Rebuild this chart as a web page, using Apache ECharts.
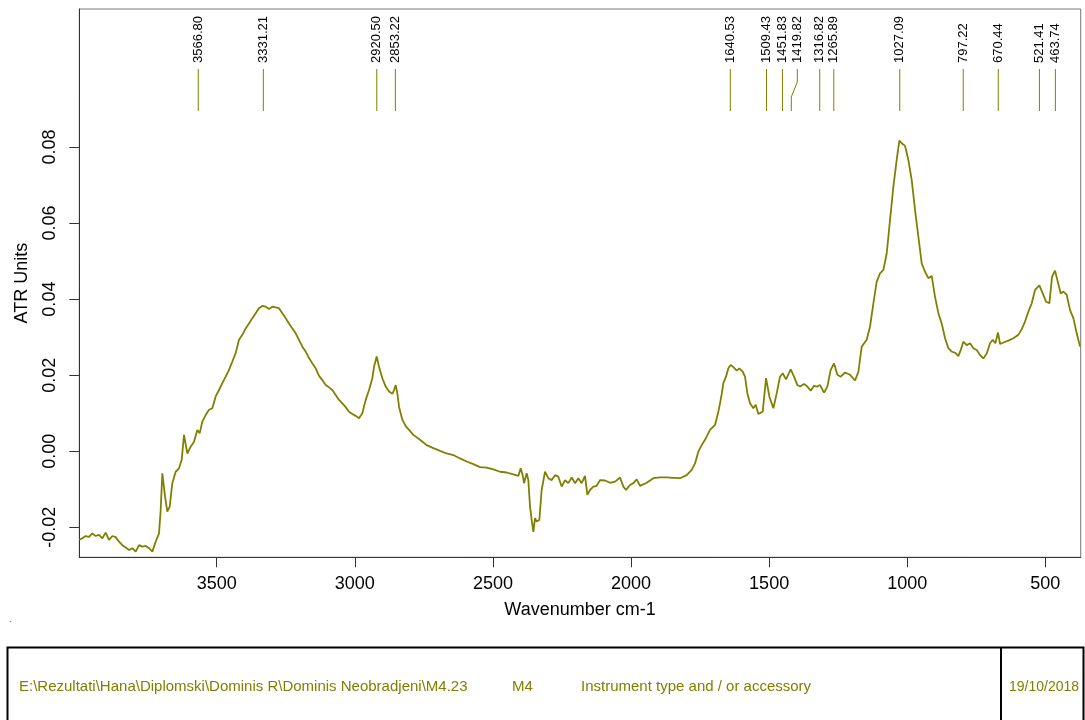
<!DOCTYPE html>
<html>
<head>
<meta charset="utf-8">
<script src="https://cdn.jsdelivr.net/npm/echarts@6/dist/echarts.min.js"></script>
<style>
html,body{margin:0;padding:0;background:#fff;}
#c{width:1085px;height:720px;}
</style>
</head>
<body>
<div id="c"></div>
<script>
// Wavenumbers (cm-1), descending
const wavenumbers = [
3997.5,3986.5,3974.5,3962.4,3950.3,3938.3,3926.2,3914.1,3902.0,3890.0,3877.9,3865.8,3853.8,3841.7,3829.6,3817.6,3805.5,3793.4,3781.4,3769.3,3757.2,3745.1,3733.1,3727.0,3721.0,3708.9,3702.9,3696.9,3687.2,3678.8,3670.3,3660.7,3648.6,3636.5,3626.9,3618.4,3606.4,3594.3,3582.2,3570.2,3561.7,3552.0,3540.0,3527.9,3515.8,3503.8,3491.7,3479.6,3467.6,3455.5,3443.4,3431.4,3419.3,3407.2,3395.2,3383.1,3371.0,3359.0,3346.9,3334.8,3322.7,3310.7,3298.6,3286.5,3274.5,3262.4,3250.3,3238.3,3226.2,3214.1,3202.1,3190.0,3177.9,3165.8,3153.8,3141.7,3129.6,3117.6,3105.5,3093.4,3081.4,3069.3,3057.2,3045.1,3033.1,3021.0,3008.9,2996.9,2984.8,2972.7,2960.7,2948.6,2936.5,2930.5,2920.8,2912.4,2900.3,2888.3,2876.2,2864.1,2858.1,2852.0,2846.0,2840.0,2827.9,2815.8,2803.8,
2788.1,2764.0,2739.9,2715.7,2691.6,2667.4,2643.3,2619.2,2595.0,2570.9,2546.7,2522.6,2498.5,2474.3,2450.2,2426.1,2408.0,2399.5,2392.3,2387.4,2377.8,2371.8,2365.7,2359.7,2353.6,2347.6,2341.6,2332.0,2323.6,2311.4,2299.4,2287.3,2275.2,2263.2,2251.1,2239.0,2227.0,2214.9,2202.8,2190.7,2178.7,2166.6,2158.1,2148.5,2136.4,2124.3,2112.3,2094.2,2076.1,2057.9,2039.8,2027.8,2018.1,2003.6,1991.6,1979.5,1967.4,1943.3,1919.1,1895.0,1870.9,1846.7,1822.6,1798.5,1780.3,1768.3,1756.2,1744.2,1732.1,1714.0,1695.9,1683.9,1677.8,1671.8,1665.7,1656.1,1647.6,1639.2,
1629.5,1617.5,1607.8,1595.7,1587.3,1578.8,1569.2,1557.1,1548.7,1539.0,1523.3,1511.2,1499.2,1484.7,1472.6,1460.6,1450.9,1438.8,1421.9,1409.9,1397.8,1388.2,1373.7,1361.6,1349.5,1337.5,1325.4,1315.7,1301.2,1289.2,1277.1,1265.0,1253.0,1240.9,1225.2,1207.1,1189.0,1176.9,1164.9,1146.8,1134.7,1122.6,1110.5,1098.5,1086.4,1074.4,1062.3,1050.2,1038.2,1028.5,1020.0,1007.9,995.9,983.8,971.7,959.7,947.6,935.6,923.5,911.4,899.4,887.3,875.2,863.1,851.1,839.0,826.9,814.9,806.4,796.8,784.7,772.6,760.6,748.5,736.4,724.4,712.3,700.2,690.5,681.0,671.3,664.0,652.0,633.8,615.7,597.6,585.6,573.5,561.4,549.4,537.3,521.6,509.5,497.4,485.4,475.7,464.9,456.4,444.4,434.7,422.6,410.5,398.5,386.4,374.4
];
// Absorbance (ATR units)
const atrUnits = [
-0.0233,-0.0229,-0.0223,-0.0225,-0.0216,-0.0223,-0.0220,-0.0229,-0.0214,-0.0233,-0.0223,-0.0226,-0.0238,-0.0247,-0.0253,-0.0260,-0.0255,-0.0264,-0.0247,-0.0251,-0.0249,-0.0255,-0.0264,-0.0268,-0.0238,-0.0216,-0.0155,-0.0058,-0.0119,-0.0159,-0.0146,-0.0084,-0.0054,-0.0045,-0.0023,0.0043,-0.0006,0.0012,0.0025,0.0056,0.0047,0.0078,0.0095,0.0109,0.0113,0.0144,0.0161,0.0179,0.0196,0.0214,0.0236,0.0258,0.0293,0.0306,0.0323,0.0336,0.0350,0.0363,0.0376,0.0382,0.0380,0.0374,0.0380,0.0378,0.0376,0.0363,0.0350,0.0336,0.0323,0.0310,0.0293,0.0275,0.0262,0.0245,0.0231,0.0218,0.0198,0.0187,0.0174,0.0168,0.0161,0.0148,0.0135,0.0126,0.0116,0.0104,0.0098,0.0093,0.0087,0.0100,0.0135,0.0161,0.0192,0.0222,0.0249,0.0222,0.0192,0.0170,0.0157,0.0151,0.0161,0.0174,0.0152,0.0117,0.0083,0.0066,0.0056,
0.0043,0.0030,0.0016,0.0008,0.0001,-0.0006,-0.0010,-0.0019,-0.0027,-0.0034,-0.0042,-0.0043,-0.0048,-0.0054,-0.0056,-0.0061,-0.0065,-0.0045,-0.0063,-0.0084,-0.0058,-0.0076,-0.0146,-0.0181,-0.0212,-0.0176,-0.0185,-0.0181,-0.0102,-0.0054,-0.0071,-0.0076,-0.0063,-0.0067,-0.0093,-0.0076,-0.0084,-0.0069,-0.0084,-0.0071,-0.0084,-0.0065,-0.0115,-0.0102,-0.0093,-0.0091,-0.0076,-0.0077,-0.0083,-0.0080,-0.0069,-0.0093,-0.0102,-0.0089,-0.0084,-0.0074,-0.0091,-0.0083,-0.0071,-0.0069,-0.0069,-0.0070,-0.0071,-0.0063,-0.0049,-0.0032,-0.0001,0.0016,0.0030,0.0056,0.0069,0.0104,0.0126,0.0150,0.0179,0.0196,0.0218,0.0227,
0.0221,0.0212,0.0218,0.0209,0.0196,0.0152,0.0126,0.0113,0.0122,0.0098,0.0104,0.0192,0.0144,0.0113,0.0152,0.0196,0.0205,0.0189,0.0215,0.0196,0.0174,0.0170,0.0177,0.0170,0.0159,0.0172,0.0170,0.0174,0.0154,0.0170,0.0214,0.0231,0.0201,0.0196,0.0207,0.0201,0.0186,0.0209,0.0275,0.0293,0.0328,0.0389,0.0446,0.0468,0.0477,0.0520,0.0608,0.0696,0.0766,0.0817,0.0810,0.0803,0.0766,0.0713,0.0634,0.0564,0.0494,0.0472,0.0455,0.0461,0.0406,0.0363,0.0336,0.0297,0.0271,0.0262,0.0259,0.0250,0.0266,0.0288,0.0279,0.0284,0.0271,0.0266,0.0253,0.0244,0.0257,0.0284,0.0293,0.0284,0.0312,0.0282,0.0286,0.0291,0.0297,0.0306,0.0321,0.0341,0.0367,0.0389,0.0424,0.0436,0.0415,0.0393,0.0389,0.0459,0.0475,0.0450,0.0415,0.0420,0.0411,0.0371,0.0350,0.0310,0.0275
];
// Peak picks
const peakWavenumbers = [3566.80,3331.21,2920.50,2853.22,1640.53,1509.43,1451.83,1419.82,1316.82,1265.89,1027.09,797.22,670.44,521.41,463.74];
const peakLabelShiftPx = [0,0,0,0,0,0,0,6,0,0,0,0,0,0,0];
// Axis ticks
const xTicks = [3500,3000,2500,2000,1500,1000,500];
const yTicks = [-0.02,0.00,0.02,0.04,0.06,0.08];

const OLIVE = '#808000';
const spectrum = wavenumbers.map((w,i)=>[w, atrUnits[i]]);
const peaks = peakWavenumbers.map((w,i)=>[w, 0, peakLabelShiftPx[i]]);

const chart = echarts.init(document.getElementById('c'), null, {renderer:'canvas'});
chart.setOption({
  animation:false,
  backgroundColor:'#fff',
  grid:{left:79.3, right:4.3, top:9, bottom:162.7, show:true, borderColor:'#777', borderWidth:1},
  xAxis:{
    type:'value', inverse:true, min:372, max:3997.5,
    name:'Wavenumber cm-1', nameLocation:'middle', nameGap:44,
    nameTextStyle:{color:'#000', fontSize:18, fontFamily:'Liberation Sans, Arial'},
    axisLine:{onZero:false, lineStyle:{color:'#333', width:1}},
    axisTick:{show:true, length:10, customValues:xTicks, lineStyle:{color:'#333'}},
    axisLabel:{customValues:xTicks, color:'#000', fontSize:18, margin:18, fontFamily:'Liberation Sans, Arial',
      formatter:v=>String(v)},
    splitLine:{show:false}
  },
  yAxis:{
    type:'value', min:-0.0279, max:0.1163,
    name:'ATR Units', nameLocation:'middle', nameGap:48, nameRotate:90,
    nameTextStyle:{color:'#000', fontSize:18, fontFamily:'Liberation Sans, Arial'},
    axisLine:{show:true, onZero:false, lineStyle:{color:'#333', width:1}},
    axisTick:{show:true, length:10, customValues:yTicks, lineStyle:{color:'#333'}},
    axisLabel:{customValues:yTicks, rotate:90, color:'#000', fontSize:18, margin:20, fontFamily:'Liberation Sans, Arial',
      formatter:v=>v.toFixed(2)},
    splitLine:{show:false}
  },
  series:[
    {type:'line', data:spectrum, showSymbol:false, symbol:'none',
     lineStyle:{color:OLIVE, width:1.8}, clip:true, z:3},
    {type:'custom', data:peaks, encode:{x:0,y:1}, clip:false, z:4,
     renderItem:function(params, api){
       const x = api.coord([api.value(0), 0])[0];
       const off = api.value(2);
       const xl = x + off;
       const pts = off ? [[xl,69],[xl,82],[x,97],[x,111]] : [[x,69],[x,111]];
       return {type:'group', children:[
         {type:'polyline', shape:{points:pts}, style:{stroke:OLIVE, lineWidth:1, fill:null}},
         {type:'text', x:xl, y:63, rotation:Math.PI/2,
          style:{text:peakWavenumbers[params.dataIndex].toFixed(2), fill:'#000', font:'13px "Liberation Sans", Arial', align:'left', verticalAlign:'middle'}}
       ]};
     }}
  ],
  graphic:[
    {type:'rect', shape:{x:7.5, y:647.5, width:1076, height:90}, style:{fill:null, stroke:'#000', lineWidth:2}},
    {type:'line', shape:{x1:1001, y1:647.5, x2:1001, y2:730}, style:{stroke:'#000', lineWidth:2}},
    {type:'text', x:19, y:687, style:{text:'E:\\Rezultati\\Hana\\Diplomski\\Dominis R\\Dominis Neobradjeni\\M4.23', fill:OLIVE, font:'15px "Liberation Sans", Arial', verticalAlign:'middle'}},
    {type:'text', x:512, y:687, style:{text:'M4', fill:OLIVE, font:'15px "Liberation Sans", Arial', verticalAlign:'middle'}},
    {type:'text', x:581, y:687, style:{text:'Instrument type and / or accessory', fill:OLIVE, font:'15px "Liberation Sans", Arial', verticalAlign:'middle'}},
    {type:'text', x:1009, y:687, style:{text:'19/10/2018', fill:OLIVE, font:'14px "Liberation Sans", Arial', verticalAlign:'middle'}},
    {type:'circle', shape:{cx:10.5, cy:621.5, r:0.8}, style:{fill:'#888'}}
  ]
});
</script>
</body>
</html>
